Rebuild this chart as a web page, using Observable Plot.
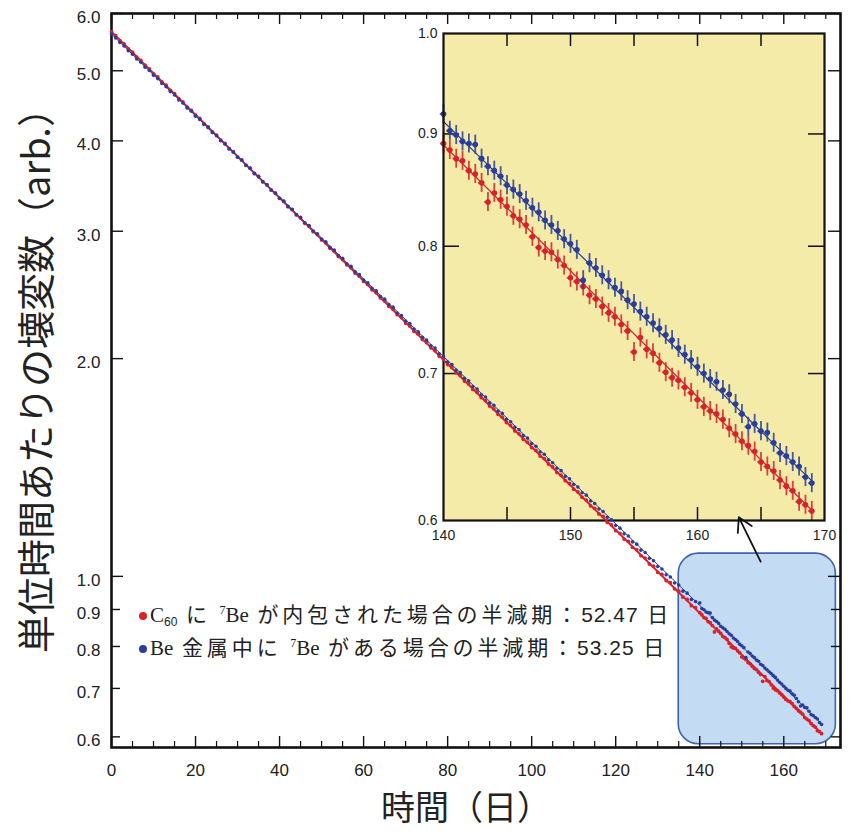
<!DOCTYPE html>
<html><head><meta charset="utf-8">
<script src="https://cdn.jsdelivr.net/npm/d3@7"></script>
<script src="https://cdn.jsdelivr.net/npm/@observablehq/plot@0.6"></script>
<style>
body{margin:0;background:#fff;}
#wrap{position:relative;width:853px;height:835px;overflow:hidden;background:#fff;}
#wrap .layer{position:absolute;}
.ttl{position:absolute;white-space:nowrap;color:#222;font-family:"Noto Sans CJK JP",sans-serif;line-height:1;}
.leg{position:absolute;left:139px;white-space:nowrap;font-size:21px;letter-spacing:3.9px;line-height:24px;color:#222;font-family:"Noto Sans CJK JP",sans-serif;}
.leg .s{font-family:"Liberation Serif",serif;font-size:21px;letter-spacing:0;}
.leg .n{font-family:"Liberation Sans",sans-serif;letter-spacing:1px;}
.leg sub{font-size:12px;vertical-align:-4px;letter-spacing:0;font-family:"Liberation Sans",sans-serif;}
.leg sup{font-size:12px;vertical-align:8px;letter-spacing:0;font-family:"Liberation Serif",serif;}
.leg .d{display:inline-block;width:8px;height:8px;border-radius:50%;margin-right:3px;vertical-align:2px;}
</style></head><body><div id="wrap"></div><script>
// ---- data ----
const days = [0,1,2,3,4,5,6,7,8,9,10,11,12,13,14,15,16,17,18,19,20,21,22,23,24,25,26,27,28,29,30,31,32,33,34,35,36,37,38,39,40,41,42,43,44,45,46,47,48,49,50,51,52,53,54,55,56,57,58,59,60,61,62,63,64,65,66,67,68,69,70,71,72,73,74,75,76,77,78,79,80,81,82,83,84,85,86,87,88,89,90,91,92,93,94,95,96,97,98,99,100,101,102,103,104,105,106,107,108,109,110,111,112,113,114,115,116,117,118,119,120,121,122,123,124,125,126,127,128,129,130,131,132,133,134,135,136,137,138,139];
const redMain = [5.660,5.590,5.505,5.448,5.362, 5.305,5.221,5.166,5.085,5.031, 4.952,4.903,4.826,4.775,4.699, 4.650,4.575,4.528,4.455,4.409,
 4.340,4.295,4.226,4.183,4.117, 4.074,4.008,3.968,3.903,3.864, 3.801,3.765,3.703,3.667,3.607, 3.571,3.512,3.478,3.420,3.386,
 3.331,3.299,3.244,3.213,3.160, 3.129,3.077,3.048,2.996,2.968, 2.918,2.891,2.842,2.816,2.768, 2.742,2.696,2.671,2.625,2.600,
 2.557,2.533,2.490,2.467,2.426, 2.403,2.362,2.341,2.300,2.279, 2.240,2.219,2.181,2.162,2.125, 2.106,2.070,2.051,2.015,1.997,
 1.963,1.945,1.912,1.895,1.862, 1.845,1.813,1.797,1.766,1.750, 1.720,1.704,1.675,1.660,1.632, 1.617,1.589,1.574,1.547,1.533,
 1.507,1.493,1.467,1.455,1.430, 1.417,1.392,1.380,1.356,1.344, 1.320,1.309,1.286,1.275,1.252, 1.242,1.220,1.210,1.188,1.178,
 1.157,1.147,1.126,1.118,1.097, 1.089,1.068,1.060,1.040,1.033, 1.013,1.006,0.987,0.980,0.961, 0.954,0.936,0.929,0.911,0.905];
const blueMain = [5.622,5.552,5.470,5.411,5.330, 5.272,5.192,5.137,5.058,5.005, 4.928,4.877,4.801,4.752,4.679, 4.630,4.557,4.511,4.440,4.395,
 4.326,4.283,4.215,4.172,4.107, 4.066,4.001,3.961,3.898,3.859, 3.797,3.761,3.699,3.665,3.604, 3.570,3.512,3.479,3.421,3.389,
 3.333,3.303,3.247,3.218,3.164, 3.135,3.082,3.055,3.003,2.976, 2.926,2.901,2.850,2.826,2.777, 2.753,2.705,2.683,2.636,2.613,
 2.568,2.546,2.502,2.481,2.437, 2.417,2.375,2.356,2.313,2.294, 2.254,2.236,2.197,2.179,2.140, 2.122,2.084,2.069,2.031,2.015,
 1.979,1.963,1.928,1.913,1.878, 1.864,1.830,1.816,1.783,1.770, 1.737,1.724,1.692,1.680,1.649, 1.636,1.607,1.595,1.565,1.553,
 1.526,1.513,1.486,1.475,1.449, 1.436,1.411,1.400,1.375,1.364, 1.340,1.329,1.305,1.295,1.271, 1.261,1.239,1.229,1.207,1.197,
 1.176,1.166,1.145,1.137,1.116, 1.108,1.087,1.079,1.059,1.051, 1.032,1.024,1.005,0.998,0.979, 0.973,0.954,0.948,0.929,0.923];
const insetDays = [140,140.5,141,141.5,142,142.5,143,143.5,144,144.5,145,145.5,146,146.5,147,147.5,148,148.5,149,149.5,
 150,150.5,151,151.5,152,152.5,153,153.5,154,154.5,155,155.5,156,156.5,157,157.5,158,158.5,159,159.5,
 160,160.5,161,161.5,162,162.5,163,163.5,164,164.5,165,165.5,166,166.5,167,167.5,168,168.5,169];
const redInset = [0.891,0.885,0.877,0.875,0.866,0.863,0.855,0.838,0.846,0.840,0.834,0.826,0.823,0.818,0.808,0.799,0.796,0.795,0.789,0.784,
 0.774,0.771,0.767,0.760,0.757,0.751,0.746,0.743,0.737,0.732,0.716,0.727,0.718,0.715,0.708,0.701,0.697,0.695,0.690,0.686,
 0.681,0.676,0.673,0.671,0.667,0.661,0.657,0.652,0.649,0.645,0.638,0.635,0.632,0.626,0.622,0.619,0.612,0.610,0.606];
const blueInset = [0.919,0.903,0.899,0.893,0.891,0.890,0.877,0.870,0.866,0.861,0.853,0.849,0.845,0.839,0.833,0.829,0.822,0.818,0.813,0.806,
 0.802,0.797,0.772,0.786,0.782,0.776,0.772,0.766,0.763,0.756,0.753,0.747,0.743,0.738,0.734,0.729,0.725,0.719,0.714,0.710,
 0.705,0.700,0.696,0.694,0.688,0.685,0.678,0.671,0.662,0.664,0.659,0.658,0.651,0.644,0.642,0.638,0.635,0.628,0.624];
const fitDays = [0, 169];
const fitRed = [5.66, 0.6065];   // 半減期 52.47 日
const fitBlue = [5.62, 0.6255];  // 半減期 53.25 日
const boxDays = [135, 172.4], boxVals = [0.586, 1.075];
const arrowDays = [154.5, 149.3], arrowVals = [1.048, 1.207];
const xMajor = [0,20,40,60,80,100,120,140,160];
const xMinor = [5,10,15,25,30,35,45,50,55,65,70,75,85,90,95,105,110,115,125,130,135,145,150,155,165,170];
const yMajor = [1,2,3,4,5,6];
const yMinor = [0.6,0.7,0.8,0.9];
const insetXLabels = [140,150,160,170];
const insetXTicks = [145,150,155,160,165];
const insetYLabels = [0.6,0.7,0.8,0.9,1.0];
const insetYTicks = [0.7,0.8,0.9];
const RED = "#d8212b", BLUE = "#2a3d9c";

const rows = (ts, vs) => ts.map((t, i) => ({t, v: vs[i]}));
const redAll = rows(days.concat(insetDays), redMain.concat(redInset));
const blueAll = rows(days.concat(insetDays), blueMain.concat(blueInset));
const redIn = rows(insetDays, redInset), blueIn = rows(insetDays, blueInset);
const fitR = rows(fitDays, fitRed), fitB = rows(fitDays, fitBlue);

// ---- main plot geometry ----
const W = 853, H = 835, mL = 111, mT = 13, mR = 13, mB = 88;
const fw = W - mL - mR, fh = H - mT - mB;
const base = {width: W, height: H, marginLeft: mL, marginTop: mT, marginRight: mR, marginBottom: mB,
  x: {domain: [0, 173.5]}, y: {type: "log", domain: [0.58, 6]}};
const font = "'Liberation Sans', Arial, sans-serif";

const A = Plot.plot({...base,
  style: {fontFamily: font, color: "#222", background: "white"},
  marks: [
    Plot.rect([0], {x1: () => boxDays[0], x2: () => boxDays[1], y1: () => boxVals[0], y2: () => boxVals[1],
      rx: 20, ry: 20, fill: "#c3dbf3", stroke: "#3e62b5", strokeWidth: 1.6}),
    Plot.ruleX(xMajor, {x: d => d, insetTop: fh - 11, stroke: "#111", strokeWidth: 1.4}),
    Plot.ruleX(xMajor, {x: d => d, insetBottom: fh - 11, stroke: "#111", strokeWidth: 1.4}),
    Plot.ruleX(xMinor, {x: d => d, insetTop: fh - 6, stroke: "#111", strokeWidth: 1.2}),
    Plot.ruleX(xMinor, {x: d => d, insetBottom: fh - 6, stroke: "#111", strokeWidth: 1.2}),
    Plot.ruleY(yMajor, {y: d => d, insetRight: fw - 12, stroke: "#111", strokeWidth: 1.4}),
    Plot.ruleY(yMajor, {y: d => d, insetLeft: fw - 12, stroke: "#111", strokeWidth: 1.4}),
    Plot.ruleY(yMinor, {y: d => d, insetRight: fw - 9, stroke: "#111", strokeWidth: 1.4}),
    Plot.ruleY(yMinor, {y: d => d, insetLeft: fw - 9, stroke: "#111", strokeWidth: 1.4}),
    Plot.frame({stroke: "#111", strokeWidth: 2.6}),
    Plot.axisX({ticks: xMajor, tickSize: 0, tickPadding: 16, fontSize: 17, label: null, tickFormat: d => String(d)}),
    Plot.axisY({ticks: yMajor.concat(yMinor), tickSize: 0, tickPadding: 11, fontSize: 17, label: null, dy: 4, tickFormat: d3.format(".1f")})
  ]
});

// ---- inset ----
const iW = 445, iH = 535, iL = 43, iT = 13, iR = 21, iB = 35;
const ifw = iW - iL - iR, ifh = iH - iT - iB;
const B = Plot.plot({width: iW, height: iH, marginLeft: iL, marginTop: iT, marginRight: iR, marginBottom: iB,
  x: {domain: [140, 170]}, y: {type: "log", domain: [0.6, 1.0]},
  style: {fontFamily: font, color: "#222", background: "transparent"},
  marks: [
    Plot.frame({fill: "#f3eba7"}),
    Plot.ruleX(insetXTicks, {x: d => d, insetTop: ifh - 13, stroke: "#111", strokeWidth: 1.5}),
    Plot.ruleX(insetXTicks, {x: d => d, insetBottom: ifh - 13, stroke: "#111", strokeWidth: 1.5}),
    Plot.ruleY(insetYTicks, {y: d => d, insetRight: ifw - 16, stroke: "#111", strokeWidth: 1.5}),
    Plot.ruleY(insetYTicks, {y: d => d, insetLeft: ifw - 16, stroke: "#111", strokeWidth: 1.5}),
    Plot.line(fitR, {x: "t", y: "v", stroke: RED, strokeWidth: 1.2, clip: true}),
    Plot.line(fitB, {x: "t", y: "v", stroke: BLUE, strokeWidth: 1.2, clip: true}),
    Plot.ruleX(redIn, {x: "t", y1: d => d.v * 0.99, y2: d => d.v * 1.01, stroke: RED, strokeWidth: 1.8, strokeOpacity: 0.85}),
    Plot.ruleY(redIn, {y: "v", x1: d => d.t - 0.25, x2: d => d.t + 0.25, stroke: RED, strokeWidth: 1.8, strokeOpacity: 0.85}),
    Plot.dot(redIn, {x: "t", y: "v", r: 2.8, fill: RED}),
    Plot.ruleX(blueIn, {x: "t", y1: d => d.v * 0.99, y2: d => d.v * 1.01, stroke: BLUE, strokeWidth: 1.8, strokeOpacity: 0.85}),
    Plot.ruleY(blueIn, {y: "v", x1: d => d.t - 0.25, x2: d => d.t + 0.25, stroke: BLUE, strokeWidth: 1.8, strokeOpacity: 0.85}),
    Plot.dot(blueIn, {x: "t", y: "v", r: 2.8, fill: BLUE}),
    Plot.frame({stroke: "#111", strokeWidth: 2.2}),
    Plot.axisX({ticks: insetXLabels, tickSize: 0, tickPadding: 10, fontSize: 14, label: null, tickFormat: d => String(d)}),
    Plot.axisY({ticks: insetYLabels, tickSize: 0, tickPadding: 6, fontSize: 14, label: null, tickFormat: d3.format(".1f")})
  ]
});

// ---- main data layer (drawn over the inset) ----
const C = Plot.plot({...base,
  x: {...base.x, axis: null}, y: {...base.y, axis: null},
  style: {background: "transparent"},
  marks: [
    Plot.line(fitR, {x: "t", y: "v", stroke: RED, strokeWidth: 2}),
    Plot.dot(redAll, {x: "t", y: "v", r: 1.9, fill: RED}),
    Plot.dot(blueAll, {x: "t", y: "v", r: 1.8, fill: BLUE}),
    Plot.line(fitB, {x: "t", y: "v", stroke: BLUE, strokeWidth: 1}),
    Plot.arrow([0], {x1: () => arrowDays[0], y1: () => arrowVals[0], x2: () => arrowDays[1], y2: () => arrowVals[1],
      stroke: "#111", strokeWidth: 1.8, headLength: 13})
  ]
});

const wrap = document.getElementById("wrap");
[[A, 0, 0], [B, 400, 20], [C, 0, 0]].forEach(([el, l, t]) => {
  el.classList.add("layer"); el.style.left = l + "px"; el.style.top = t + "px"; wrap.appendChild(el);
});

const add = (html, cls, css) => { const d = document.createElement("div"); d.className = cls; d.innerHTML = html; Object.assign(d.style, css); wrap.appendChild(d); return d; };
add("単位時間あたりの壊変数（arb.）", "ttl", {left: "34px", top: "371px", fontSize: "38px", transform: "translate(-50%,-50%) rotate(-90deg)"});
add("時間（日）", "ttl", {left: "466px", top: "806px", fontSize: "34px", transform: "translate(-50%,-50%)"});
add(`<span class="d" style="background:${RED}"></span><span class="s">C</span><sub>60</sub> に <sup>7</sup><span class="s">Be</span> が内包された場合の半減期：<span class="n">52.47</span> 日`, "leg", {top: "598px"});
add(`<span class="d" style="background:${BLUE}"></span><span class="s">Be</span> 金属中に <sup>7</sup><span class="s">Be</span> がある場合の半減期：<span class="n">53.25</span> 日`, "leg", {top: "631px"});
</script></body></html>
